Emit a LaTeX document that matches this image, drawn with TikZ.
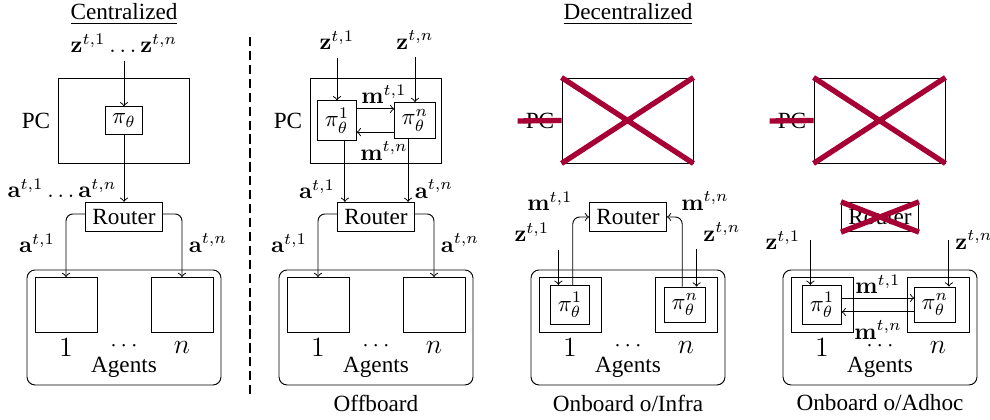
\documentclass[tikz,border=0pt]{standalone}
\usepackage[no-math]{fontspec}
\setmainfont{Liberation Serif}
\usetikzlibrary{fit}
\definecolor{crossred}{RGB}{166,0,52}

\begin{document}
\begin{tikzpicture}[x=0.431pt,y=-0.431pt,>=to,
    box/.style={draw,inner sep=3pt},
    agent/.style={draw,minimum width=26.7pt,minimum height=23.7pt},
    frame/.style={draw,inner sep=0pt},
    cross/.style={crossred,line width=2.3pt},
    routed/.style={->,rounded corners=3pt}]
\useasboundingbox (0,0) rectangle (990,420);

% parts shared by all four panels
\foreach \cx/\s in {124/A,376/B,628/C,880/D}{
  \begin{scope}[shift={(\cx,0)}]
    \node[frame,fit={(-66,78) (65,163)}] (pc\s) {};
    \node (pclab\s) at (-88,121) {PC};
    \node[box] (router\s) at (0,217) {Router};
    \node[frame,rounded corners=3.5pt,fit={(-97,270) (97,385)}] (agents\s) {};
    \node[agent] (ag1\s) at (-58,305) {};
    \node[agent] (agn\s) at (58,305) {};
    \node at (-58,348) {\large$1$};
    \node at (0,346) {$\cdots$};
    \node at (58,348) {\large$n$};
    \node at (0,367) {Agents};
  \end{scope}
}

% router to agents (offboard variants)
\foreach \cx/\s in {124/A,376/B}{
  \draw[routed] ([yshift=1.3pt]router\s.west) -| (ag1\s.north);
  \draw[routed] ([yshift=1.3pt]router\s.east) -| (agn\s.north);
  \begin{scope}[shift={(\cx,0)}]
    \node at (-87,243) {$\mathbf{a}^{t,1}$};
    \node at (84,243) {$\mathbf{a}^{t,n}$};
  \end{scope}
}

\draw[semithick,dash pattern=on 4pt off 2pt] (250,37) -- (250,398);

% centralized
\begin{scope}[shift={(124,0)}]
  \node at (0,14) {\underline{Centralized}};
  \node (zA) at (0,43) {$\mathbf{z}^{t,1}\ldots\mathbf{z}^{t,n}$};
  \node[box] (piA) at (0,120.5) {$\pi_\theta$};
  \node at (-62,188) {$\mathbf{a}^{t,1}\ldots\mathbf{a}^{t,n}$};
\end{scope}
\draw[->] (zA) -- (piA);
\draw[->] (piA) -- (routerA);

% offboard
\begin{scope}[shift={(376,0)}]
  \node (z1B) at (-39,40) {$\mathbf{z}^{t,1}$};
  \node (znB) at (39,40) {$\mathbf{z}^{t,n}$};
  \node[box] (pi1B) at (-39,120.5) {$\pi_\theta^1$};
  \node[box] (pinB) at (39,120.5) {$\pi_\theta^n$};
  \node at (8,94) {$\mathbf{m}^{t,1}$};
  \node at (8,151) {$\mathbf{m}^{t,n}$};
  \node at (-59,189) {$\mathbf{a}^{t,1}$};
  \node at (58,189) {$\mathbf{a}^{t,n}$};
  \node at (0,403) {Offboard};
\end{scope}
\draw[->] (z1B) -- (pi1B);
\draw[->] (znB) -- (pinB);
\draw[->] ([yshift=5pt]pi1B.east) -- ([yshift=5pt]pi1B.east -| pinB.west);
\draw[->] ([yshift=-5pt]pinB.west) -- ([yshift=-5pt]pinB.west -| pi1B.east);
\draw[->] ([xshift=3.4pt]pi1B.south) -- ([xshift=3.4pt]pi1B.south |- routerB.north);
\draw[->] ([xshift=-3pt]pinB.south) -- ([xshift=-3pt]pinB.south |- routerB.north);

% onboard with infrastructure
\begin{scope}[shift={(628,0)}]
  \node at (0,14) {\underline{Decentralized}};
  \node[box] (pi1C) at (-58,305) {$\pi_\theta^1$};
  \node[box] (pinC) at (57,305) {$\pi_\theta^n$};
  \node (z1C) at (-96,232) {$\mathbf{z}^{t,1}$};
  \node (znC) at (94,232) {$\mathbf{z}^{t,n}$};
  \node at (-78,201) {$\mathbf{m}^{t,1}$};
  \node at (77,201) {$\mathbf{m}^{t,n}$};
  \node at (0,403) {Onboard o/Infra};
\end{scope}
\draw[->] ([xshift=-5pt]pi1C.north |- z1C.south) -- ([xshift=-5pt]pi1C.north);
\draw[->] ([xshift=5pt]pinC.north |- znC.south) -- ([xshift=5pt]pinC.north);
\draw[routed] ([xshift=1.2pt]pi1C.north) |- (routerC.west);
\draw[routed] ([xshift=-1.2pt]pinC.north) |- (routerC.east);

% onboard ad hoc
\begin{scope}[shift={(880,0)}]
  \node[box] (pi1D) at (-58,305) {$\pi_\theta^1$};
  \node[box] (pinD) at (55,305) {$\pi_\theta^n$};
  \node (z1D) at (-97,240) {$\mathbf{z}^{t,1}$};
  \node (znD) at (94,240) {$\mathbf{z}^{t,n}$};
  \node at (-2,284) {$\mathbf{m}^{t,1}$};
  \node at (-2,330) {$\mathbf{m}^{t,n}$};
  \node at (0,403) {Onboard o/Adhoc};
\end{scope}
\draw[->] ([xshift=-5pt]pi1D.north |- z1D.east) -- ([xshift=-5pt]pi1D.north);
\draw[->] ([xshift=6pt]pinD.north |- znD.west) -- ([xshift=6pt]pinD.north);
\draw[->] ([yshift=3pt]pi1D.east) -- ([yshift=3pt]pi1D.east -| pinD.west);
\draw[->] ([yshift=-3pt]pinD.west) -- ([yshift=-3pt]pinD.west -| pi1D.east);

% crossed out parts
\foreach \s in {C,D}{
  \draw[cross] (pc\s.north west) -- (pc\s.south east) (pc\s.south west) -- (pc\s.north east);
  \draw[cross] (pclab\s.west) -- (pc\s.west);
}
\draw[cross] (routerD.north west) -- (routerD.south east) (routerD.south west) -- (routerD.north east);
\end{tikzpicture}
\end{document}
